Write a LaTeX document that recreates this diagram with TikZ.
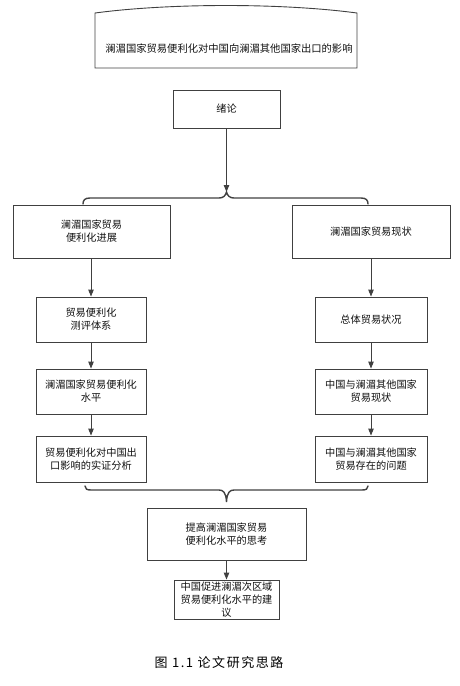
\documentclass[tikz,border=0pt]{standalone}
\usepackage{fontspec}
\newfontfamily\cjk{Noto Sans CJK SC}
\newfontfamily\capcjk[LetterSpace=12]{Noto Sans CJK SC}
\usetikzlibrary{arrows.meta}
\definecolor{linec}{HTML}{404040}
\definecolor{textc}{HTML}{111111}
\tikzset{
  box/.style={draw=linec, line width=0.9pt, fill=white, align=center, inner sep=1pt,
    font=\cjk\fontsize{10.2}{13}\selectfont, text=textc},
  arr/.style={draw=linec, line width=0.9pt, -{Triangle[length=7pt,width=5.5pt]}},
  brace/.style={draw=linec, line width=1.4pt, line cap=round},
}
\begin{document}
\begin{tikzpicture}[x=1pt,y=-1pt]
\useasboundingbox (0,0) rectangle (459,686);
% title shape
\draw[draw=linec, line width=0.9pt] (95,68) -- (95,13) .. controls (170,3) and (282,3) .. (357,13) -- (357,68) -- cycle;
\node[font=\cjk\fontsize{10.3}{13}\selectfont, text=textc] (title) at (229,49) {澜湄国家贸易便利化对中国向澜湄其他国家出口的影响};
% intro
\node[box, minimum width=107pt, minimum height=38pt] (intro) at (226.5,109) {绪论};
% top brace
\coordinate (topcusp) at (226.5,192);
\draw[brace] (83,204) .. controls (83,200) and (85,198) .. (90,198) -- (219,198) .. controls (223,198) and (225.5,196) .. (topcusp) .. controls (227.5,196) and (230,198) .. (234,198) -- (361,198) .. controls (366,198) and (368,200) .. (368,204);
\draw[arr] (intro.south) -- (topcusp);
% left column
\node[box, minimum width=157pt, minimum height=53pt] (L1) at (91.5,231.5) {澜湄国家贸易\\便利化进展};
\node[box, minimum width=110pt, minimum height=45pt] (L2) at (91,319.5) {贸易便利化\\测评体系};
\node[box, minimum width=110pt, minimum height=45pt] (L3) at (91,391.5) {澜湄国家贸易便利化\\水平};
\node[box, minimum width=110pt, minimum height=46pt] (L4) at (91,459) {贸易便利化对中国出\\口影响的实证分析};
% right column
\node[box, minimum width=158pt, minimum height=53pt] (R1) at (371,231.5) {澜湄国家贸易现状};
\node[box, minimum width=112pt, minimum height=45pt] (R2) at (371,319.5) {总体贸易状况};
\node[box, minimum width=112pt, minimum height=45pt] (R3) at (371,391.5) {中国与澜湄其他国家\\贸易现状};
\node[box, minimum width=112pt, minimum height=46pt] (R4) at (371,459) {中国与澜湄其他国家\\贸易存在的问题};
\draw[arr] (L1.south -| L2) -- (L2.north);
\draw[arr] (L2.south) -- (L3.north);
\draw[arr] (L3.south) -- (L4.north);
\draw[arr] (R1.south) -- (R2.north);
\draw[arr] (R2.south) -- (R3.north);
\draw[arr] (R3.south) -- (R4.north);
% bottom brace
\coordinate (botcusp) at (226.5,502);
\draw[brace] (85,486) .. controls (85,489) and (87,490) .. (91,490) -- (219,490) .. controls (223,490) and (226,492) .. (botcusp) .. controls (227,492) and (230,490) .. (234,490) -- (362,490) .. controls (366,490) and (368,489) .. (368,486);
% summary boxes
\node[box, minimum width=159pt, minimum height=52pt] (S) at (226.5,534) {提高澜湄国家贸易\\便利化水平的思考};
\node[box, minimum width=105pt, minimum height=39pt] (T) at (226.5,599.5) {中国促进澜湄次区域\\贸易便利化水平的建\\议};
\draw[arr] (S.south) -- (T.north);
% caption
\node[font=\capcjk\fontsize{13}{15}\selectfont, text=black] (cap) at (219,663) {图 1.1 论文研究思路};
\end{tikzpicture}
\end{document}
